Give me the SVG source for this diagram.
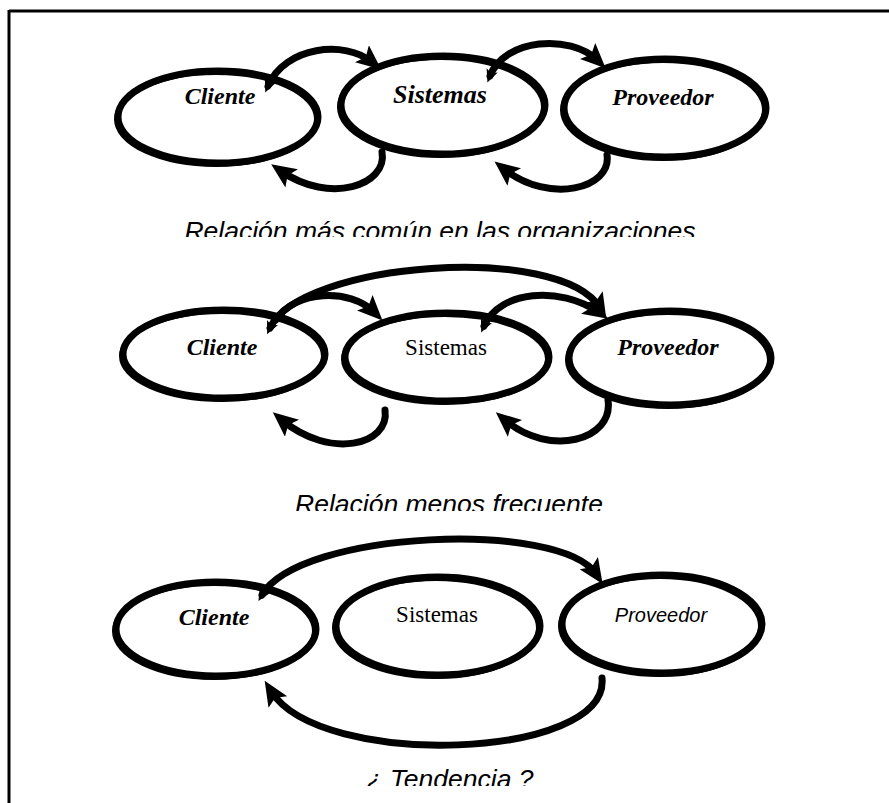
<svg xmlns="http://www.w3.org/2000/svg" width="889" height="803" viewBox="0 0 889 803">
  <style>
    .node { fill: none; stroke: #000; stroke-width: 7; }
    .node2 { fill: none; stroke: #000; stroke-width: 4; }
    .arc { fill: none; stroke: #000; stroke-width: 7; stroke-linecap: round; }
    .lbl { font-family: "Liberation Serif", "Times New Roman", serif; font-weight: bold; font-style: italic; font-size: 24px; text-anchor: middle; fill: #000; }
    .lblr { font-family: "Liberation Serif", "Times New Roman", serif; font-size: 23px; text-anchor: middle; fill: #000; }
    .lbls { font-family: "Liberation Sans", Arial, sans-serif; font-style: italic; font-size: 20px; text-anchor: middle; fill: #000; }
    .cap { font-family: "Liberation Sans", Arial, sans-serif; font-style: italic; font-size: 26.5px; text-anchor: middle; fill: #000; }
  </style>
  <defs>
    <marker id="head" markerUnits="userSpaceOnUse" markerWidth="30" markerHeight="24" refX="13" refY="11" orient="auto">
      <path d="M0,0 L25,11 L0,22 L5,11 z" fill="#000"/>
    </marker>
    <marker id="tail" markerUnits="userSpaceOnUse" markerWidth="20" markerHeight="14" refX="6" refY="6" orient="auto-start-reverse">
      <path d="M0,0 L13,6 L0,12 L3,6 z" fill="#000"/>
    </marker>
    <clipPath id="cut1"><rect x="0" y="200" width="889" height="37"/></clipPath>
    <clipPath id="cut2"><rect x="0" y="470" width="889" height="41"/></clipPath>
    <clipPath id="cut3"><rect x="0" y="750" width="889" height="36"/></clipPath>
  </defs>

  <!-- frame -->
  <g id="frame" stroke="#000" stroke-width="3" fill="none">
    <line x1="9" y1="11" x2="889" y2="11"/>
    <line x1="9" y1="10" x2="9" y2="803"/>
  </g>

  <!-- row 1: most common relation -->
  <g id="cliente1">
    <ellipse class="node" cx="218" cy="117" rx="100" ry="46"/>
    <ellipse class="node2" cx="216" cy="119" rx="100" ry="46"/>
    <text class="lbl" x="220" y="104">Cliente</text>
  </g>
  <g id="sistemas1">
    <ellipse class="node" cx="443" cy="105" rx="102" ry="49"/>
    <ellipse class="node2" cx="441" cy="107" rx="102" ry="49"/>
    <text class="lbl" x="440" y="103" style="font-size:26px">Sistemas</text>
  </g>
  <g id="proveedor1">
    <ellipse class="node" cx="665" cy="108" rx="101" ry="49"/>
    <ellipse class="node2" cx="663" cy="110" rx="101" ry="49"/>
    <text class="lbl" x="663" y="105">Proveedor</text>
  </g>

  <!-- row 2: less frequent relation -->
  <g id="cliente2">
    <ellipse class="node" cx="224" cy="354" rx="101" ry="44"/>
    <ellipse class="node2" cx="222" cy="356" rx="101" ry="44"/>
    <text class="lbl" x="222" y="355">Cliente</text>
  </g>
  <g id="sistemas2">
    <ellipse class="node" cx="447" cy="357" rx="102" ry="44"/>
    <ellipse class="node2" cx="445" cy="359" rx="102" ry="44"/>
    <text class="lblr" x="446" y="355">Sistemas</text>
  </g>
  <g id="proveedor2">
    <ellipse class="node" cx="670" cy="358" rx="101" ry="47"/>
    <ellipse class="node2" cx="668" cy="360" rx="101" ry="47"/>
    <text class="lbl" x="668" y="355">Proveedor</text>
  </g>

  <!-- row 3: trend -->
  <g id="cliente3">
    <ellipse class="node" cx="216" cy="629" rx="100" ry="47"/>
    <ellipse class="node2" cx="214" cy="631" rx="100" ry="47"/>
    <text class="lbl" x="214" y="625">Cliente</text>
  </g>
  <g id="sistemas3">
    <ellipse class="node" cx="438" cy="626" rx="102" ry="49"/>
    <ellipse class="node2" cx="436" cy="628" rx="102" ry="49"/>
    <text class="lblr" x="437" y="622">Sistemas</text>
  </g>
  <g id="proveedor3">
    <ellipse class="node" cx="662" cy="624" rx="100" ry="49"/>
    <ellipse class="node2" cx="660" cy="626" rx="100" ry="49"/>
    <text class="lbls" x="661" y="622">Proveedor</text>
  </g>

  <!-- connectors -->
  <g id="connectors">
    <!-- row 1 -->
    <path class="arc" d="M268,86 C285,46 345,40 372,62" marker-start="url(#tail)" marker-end="url(#head)"/>
    <path class="arc" d="M382,152 C388,185 330,205 281,171" marker-end="url(#head)"/>
    <path class="arc" d="M490,76 C505,38 570,34 597,60" marker-start="url(#tail)" marker-end="url(#head)"/>
    <path class="arc" d="M607,155 C612,188 550,205 504,169" marker-end="url(#head)"/>
    <!-- row 2 -->
    <path class="arc" d="M270,328 C300,262 560,242 600,308" marker-start="url(#tail)" marker-end="url(#head)"/>
    <path class="arc" d="M276,320 C295,290 350,288 374,312" marker-end="url(#head)"/>
    <path class="arc" d="M484,326 C500,290 560,286 598,312" marker-start="url(#tail)" marker-end="url(#head)"/>
    <path class="arc" d="M385,410 C390,445 330,460 282,420" marker-end="url(#head)"/>
    <path class="arc" d="M608,400 C614,440 550,458 505,420" marker-end="url(#head)"/>
    <!-- row 3 -->
    <path class="arc" d="M262,595 C300,530 560,520 596,574" marker-start="url(#tail)" marker-end="url(#head)"/>
    <path class="arc" d="M602,678 C610,760 320,770 271,691" marker-end="url(#head)"/>
  </g>

  <!-- captions -->
  <g id="captions">
    <text class="cap" x="440" y="240" clip-path="url(#cut1)">Relación más común en las organizaciones</text>
    <text class="cap" x="449" y="513" clip-path="url(#cut2)">Relación menos frecuente</text>
    <text class="cap" x="450" y="788" clip-path="url(#cut3)">¿ Tendencia ?</text>
  </g>
</svg>
